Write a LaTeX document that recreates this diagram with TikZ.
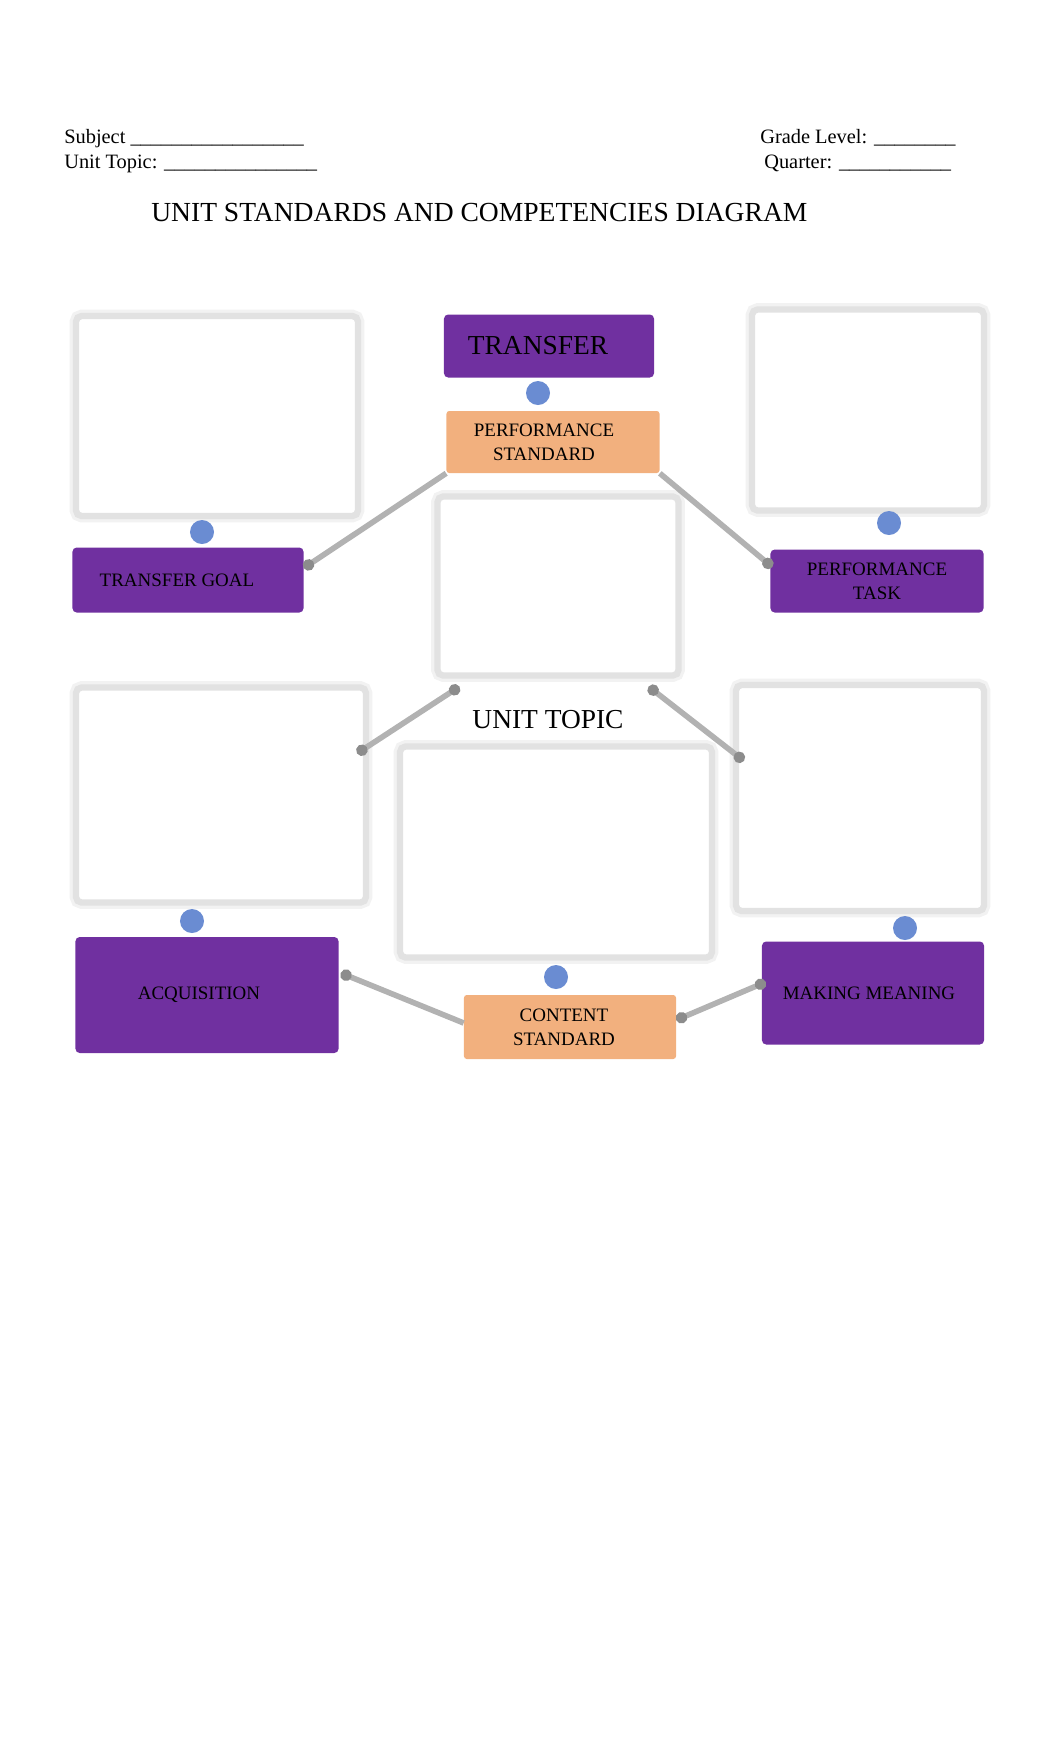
\documentclass[tikz,border=0pt]{standalone}
\usepackage{fontspec}
\setmainfont{Liberation Serif}
\usetikzlibrary{arrows.meta,calc}
\definecolor{plum}{HTML}{7030A0}
\definecolor{peach}{HTML}{F2B07E}
\definecolor{dotblue}{HTML}{6A8CD2}
\definecolor{frame}{HTML}{E2E2E2}
\definecolor{link}{HTML}{B2B2B2}
\definecolor{linkend}{HTML}{8C8C8C}
\tikzset{
  px/.style={x=0.025cm, y=-0.025cm},
  blank/.style={draw=frame, fill=white, line width=4.5pt, rounded corners=4pt, inner sep=0pt,
    preaction={draw=frame!45, line width=9pt}},
  stage/.style={fill=plum, rounded corners=3pt, inner sep=0pt, align=center,
    font=\fontsize{13.5}{17}\selectfont},
  stdbox/.style={fill=peach, rounded corners=2pt, inner sep=0pt, align=center,
    font=\fontsize{13.5}{17}\selectfont},
  knob/.style={circle, fill=dotblue, inner sep=0pt, minimum size=0.6cm},
  link/.style={draw=link, line width=4pt},
  tip/.tip={Circle[length=8pt, color=linkend]},
  head/.style={anchor=base west, inner sep=0pt, font=\fontsize{14.5}{17}\selectfont},
  big/.style={font=\fontsize{19.5}{22}\selectfont},
}
\begin{document}
\begin{tikzpicture}[px]
  \useasboundingbox (0,0) rectangle (1062,1752);
  % ======================= header =======================
  \node[head] (subj) at (64,143) {Subject \_\_\_\_\_\_\_\_\_\_\_\_\_\_\_\_\_};
  \node[head] (topic) at (64,168) {Unit Topic: \_\_\_\_\_\_\_\_\_\_\_\_\_\_\_};
  \node[head] (grade) at (760,143) {Grade Level: \_\_\_\_\_\_\_\_};
  \node[head] (quart) at (764,168) {Quarter: \_\_\_\_\_\_\_\_\_\_\_};
  \node[head, font=\fontsize{19.6}{22}\selectfont] (title) at (151,221)
    {UNIT STANDARDS AND COMPETENCIES DIAGRAM};

  % ======================= blank boxes =======================
  \node[blank, minimum width=7.05cm, minimum height=5cm] (wbtl) at (217,416) {};
  \node[blank, minimum width=5.8cm, minimum height=5.025cm] (wbtr) at (868,410) {};
  \node[blank, minimum width=6.025cm, minimum height=4.475cm] (wbc) at (558,586) {};
  \node[blank, minimum width=7.25cm, minimum height=5.375cm] (wbll) at (221,795) {};
  \node[blank, minimum width=7.8cm, minimum height=5.275cm] (wblc) at (556,852) {};
  \node[blank, minimum width=6.2cm, minimum height=5.65cm] (wblr) at (860,798) {};
  \node[big] (unit) at (548,720) {UNIT TOPIC};

  % ======================= stages =======================
  \node[stage, big, minimum width=5.25cm, minimum height=1.575cm] (transfer) at (549,346)
    {TRANSFER\hspace*{0.55cm}};
  \node[stdbox, minimum width=5.325cm, minimum height=1.55cm] (ps) at (553,442)
    {PERFORMANCE\hspace*{0.45cm}\\STANDARD\hspace*{0.45cm}};
  \node[stage, minimum width=5.775cm, minimum height=1.625cm] (tg) at (188,580)
    {TRANSFER GOAL\hspace*{0.55cm}};
  \node[stage, minimum width=5.325cm, minimum height=1.575cm] (pt) at (877,581)
    {PERFORMANCE\\TASK};
  \node[stage, minimum width=6.575cm, minimum height=2.9cm] (acq) at (207,995)
    {ACQUISITION\hspace*{0.4cm}};
  \node[stdbox, minimum width=5.3cm, minimum height=1.6cm] (cs) at (570,1027)
    {CONTENT\hspace*{0.3cm}\\STANDARD\hspace*{0.3cm}};
  \node[stage, minimum width=5.55cm, minimum height=2.575cm] (mm) at (873,993)
    {MAKING MEANING\hspace*{0.2cm}};

  % ======================= connectors =======================
  \draw[link, -tip] (ps.south west) -- ($(tg.east)+(0,-12)$);
  \draw[link, -tip] (ps.south east) -- ($(pt.west)+(2,-14)$);
  \draw[link, tip-tip] ($(wbc.south west)+(25,8)$) -- ($(wbll.north east)+(-12,69)$);
  \draw[link, tip-tip] ($(wbc.south east)+(-33,8)$) -- ($(wblr.north west)+(11,79)$);
  \draw[link, -tip] ($(cs.west)+(0,-4)$) -- ($(acq.east)+(2,-22)$);
  \draw[link, tip-tip] ($(cs.east)+(0,-7)$) -- ($(mm.west)+(4,-11)$);

  % ======================= joints =======================
  \node[knob] (k1) at (538,393) {};
  \node[knob] (k2) at (202,532) {};
  \node[knob] (k3) at (889,523) {};
  \node[knob] (k4) at (192,921) {};
  \node[knob] (k5) at (556,977) {};
  \node[knob] (k6) at (905,928) {};
\end{tikzpicture}
\end{document}
